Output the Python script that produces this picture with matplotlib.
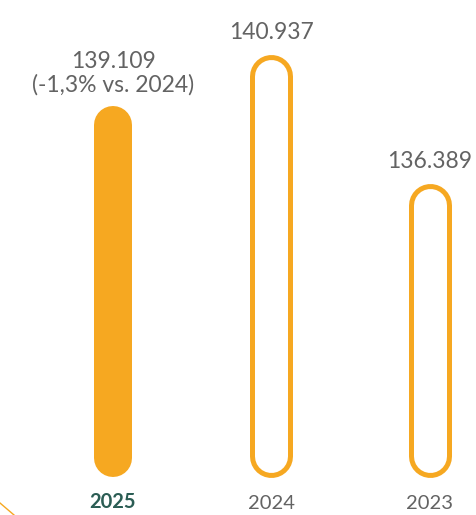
import matplotlib
matplotlib.use("Agg")
import matplotlib.pyplot as plt
from matplotlib.lines import Line2D

years = ["2025", "2024", "2023"]
values = [139109, 140937, 136389]
value_labels = ["139.109\n(-1,3% vs. 2024)", "140.937", "136.389"]

orange = "#F6A821"
grey = "#636363"
green = "#2b5d54"

plt.rcParams["font.family"] = ["Lato", "DejaVu Sans"]

W, H = 477, 515
fig = plt.figure(figsize=(W / 100, H / 100), dpi=100)
ax = fig.add_axes([0, 0, 1, 1])
xlim = (-0.713, 2.297)
ylim = (124734, 142845)
ax.set_xlim(*xlim)
ax.set_ylim(*ylim)
ax.axis("off")

base = 126070
px_y = (ylim[1] - ylim[0]) / H   # data units per pixel
pt = 0.72                         # points per pixel at 100 dpi

bar_px = 38
ring_px = 5

for i, (year, v, lab) in enumerate(zip(years, values, value_labels)):
    filled = i == 0
    if filled:
        r = bar_px / 2
        ax.plot([i, i], [base + r * px_y, v - r * px_y], color=orange,
                lw=bar_px * pt, solid_capstyle="round")
    else:
        r = (bar_px + ring_px) / 2
        y0, y1 = base + r * px_y, v - r * px_y
        ax.plot([i, i], [y0, y1], color=orange,
                lw=(bar_px + ring_px) * pt, solid_capstyle="round")
        ax.plot([i, i], [y0, y1], color="white",
                lw=(bar_px - ring_px) * pt, solid_capstyle="round")
    ax.annotate(lab, (i, v), xytext=(0, 8), textcoords="offset points",
                ha="center", va="bottom", fontsize=16.5, color=grey,
                linespacing=1.1)
    ax.text(i, 3 / H, year, transform=ax.get_xaxis_transform(),
            ha="center", va="bottom", fontsize=14.5,
            color=green if filled else grey,
            fontweight="bold" if filled else "normal")

# decorative line bottom-left
fig.add_artist(Line2D([0, 14 / W], [12 / H, 0], color=orange, lw=1,
                      transform=fig.transFigure))

fig.savefig("out.png", dpi=100)
